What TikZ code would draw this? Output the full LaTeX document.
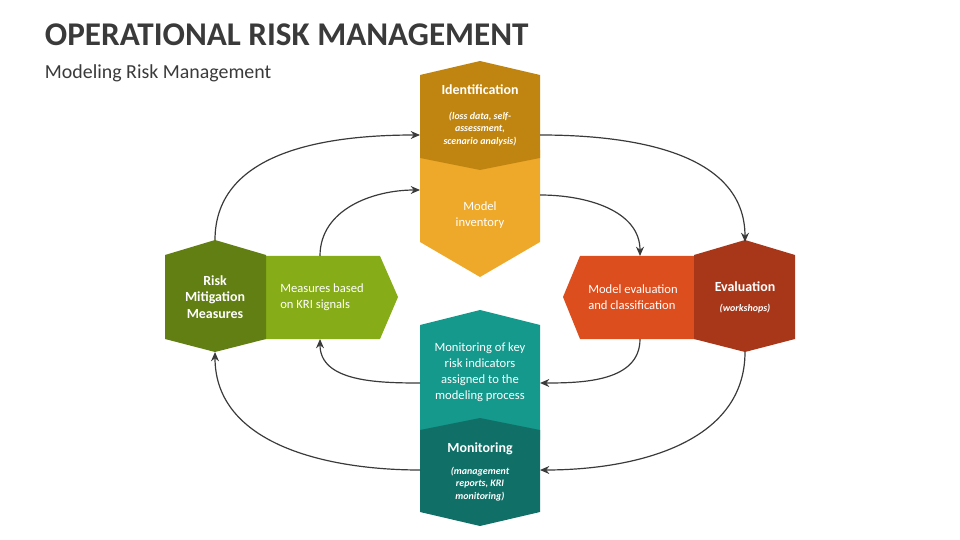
\documentclass[tikz,border=0pt]{standalone}
\usepackage{fontspec}
\setmainfont{Carlito}
\usetikzlibrary{arrows.meta}
\definecolor{idDark}{HTML}{C08510}
\definecolor{idLight}{HTML}{EFA92A}
\definecolor{rmDark}{HTML}{617F12}
\definecolor{rmLight}{HTML}{86AD17}
\definecolor{evDark}{HTML}{A8371A}
\definecolor{evLight}{HTML}{DD4E1E}
\definecolor{moDark}{HTML}{106F66}
\definecolor{moLight}{HTML}{15998C}
\definecolor{titleGray}{HTML}{3A3A3A}
\begin{document}
\begin{tikzpicture}[x=0.0265cm,y=-0.0265cm,thick]

		\tikzstyle{cycle}=[-{Stealth[length=7pt,width=6pt]},line width=0.9pt,draw=titleGray];
		\tikzstyle{head}=[text=white,font=\bfseries\fontsize{10.5}{12.5}\selectfont,align=center];
		\tikzstyle{sub}=[text=white,font=\bfseries\itshape\fontsize{7.5}{9.5}\selectfont,align=center];
		\tikzstyle{body}=[text=white,font=\fontsize{9.5}{12}\selectfont,align=center];

		\useasboundingbox (0,0) rectangle (960,540);

		\node (title) at (40,35) [anchor=west,text=titleGray,font=\bfseries\fontsize{25}{28}\selectfont] {OPERATIONAL RISK MANAGEMENT};
		\node (subtitle) at (40,73) [anchor=west,text=titleGray,font=\fontsize{15}{18}\selectfont] {Modeling Risk Management};

		% light shapes
		\fill [idLight] (420,150) -- (540,150) -- (540,242) -- (480,277) -- (420,242) -- cycle;
		\fill [rmLight] (260,256) -- (380,256) -- (398,297) -- (380,339) -- (260,339) -- cycle;
		\fill [evLight] (700,256) -- (580,256) -- (563,297) -- (580,339) -- (700,339) -- cycle;
		\fill [moLight] (420,325) -- (480,310) -- (540,325) -- (540,440) -- (420,440) -- cycle;

		% dark shapes
		\fill [idDark] (420,75) -- (480,61) -- (540,75) -- (540,158) -- (480,170) -- (420,158) -- cycle;
		\fill [rmDark] (165,255) -- (215,240) -- (266,255) -- (266,339) -- (215,352) -- (165,339) -- cycle;
		\fill [evDark] (694,255) -- (745,240) -- (795,255) -- (795,339) -- (745,352) -- (694,339) -- cycle;
		\fill [moDark] (420,430) -- (480,418) -- (540,430) -- (540,512) -- (480,526) -- (420,512) -- cycle;

		% texts
		\node (ident) at (480,90) [head] {Identification};
		\node (identSub) at (480,129) [sub] {(loss data, self-\\assessment,\\scenario analysis)};
		\node (inventory) at (480,215) [body] {Model\\inventory};
		\node (risk) at (215,297) [head] {Risk\\Mitigation\\Measures};
		\node (measures) at (322,297) [body,align=left] {Measures based\\on KRI signals};
		\node (eval) at (745,287) [head] {Evaluation};
		\node (evalSub) at (745,309) [sub] {(workshops)};
		\node (classify) at (633,297) [body,align=left] {Model evaluation\\and classification};
		\node (kri) at (480,372) [body] {Monitoring of key\\risk indicators\\assigned to the\\modeling process};
		\node (monitor) at (480,449) [head] {Monitoring};
		\node (monitorSub) at (480,484) [sub] {(management\\reports, KRI\\monitoring)};

		% connector ends
		\coordinate (rmTop) at (215,240);
		\coordinate (rmBot) at (215,352);
		\coordinate (evTop) at (745,242);
		\coordinate (evBot) at (745,352);
		\coordinate (idLeft) at (420,135);
		\coordinate (idRight) at (540,135);
		\coordinate (moLeft) at (420,470);
		\coordinate (moRight) at (540,470);
		\coordinate (invLeft) at (420,190);
		\coordinate (invRight) at (540,195);
		\coordinate (kriLeft) at (420,383);
		\coordinate (kriRight) at (540,383);
		\coordinate (meaTop) at (320,256);
		\coordinate (meaBot) at (320,339);
		\coordinate (claTop) at (640,256);
		\coordinate (claBot) at (640,339);

		% outer cycle
		\draw [cycle] (rmTop) to[out=90,in=180] (idLeft);
		\draw [cycle] (idRight) to[out=0,in=90] (evTop);
		\draw [cycle] (evBot) to[out=-90,in=0] (moRight);
		\draw [cycle] (moLeft) to[out=180,in=-90] (rmBot);

		% inner cycle
		\draw [cycle] (meaTop) to[out=90,in=180] (invLeft);
		\draw [cycle] (invRight) to[out=0,in=90] (claTop);
		\draw [cycle] (claBot) to[out=-90,in=0] (kriRight);
		\draw [cycle] (kriLeft) to[out=180,in=-90] (meaBot);
	\end{tikzpicture}
\end{document}
